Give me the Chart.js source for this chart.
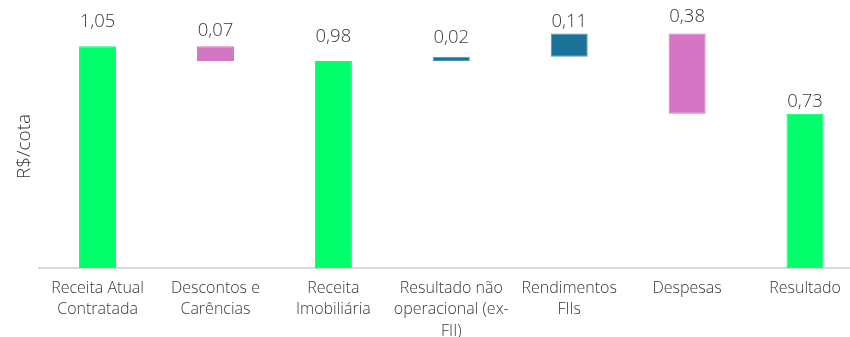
<!DOCTYPE html>
<html>
<head>
<meta charset="utf-8">
<script src="https://cdn.jsdelivr.net/npm/chart.js@4.4.1/dist/chart.umd.min.js"></script>
<style>
  html, body { margin: 0; padding: 0; background: #fff; overflow: hidden; }
  #wrap { width: 864px; height: 337px; }
</style>
</head>
<body>
<div id="wrap"><canvas id="chart"></canvas></div>
<script>
/* ---- data ---- */
const categories = [
  ['Receita Atual', 'Contratada'],
  ['Descontos e', 'Carências'],
  ['Receita', 'Imobiliária'],
  ['Resultado não', 'operacional (ex-', 'FII)'],
  ['Rendimentos', 'FIIs'],
  ['Despesas'],
  ['Resultado']
];
const values = [1.05, -0.07, 0.98, 0.02, 0.11, -0.38, 0.73];
const isTotal = [true, false, true, false, false, false, true];

/* ---- style ---- */
const GREEN = '#00FF6A';
const PINK = '#D675C3';
const BLUE = '#1B7298';
const barColors = [GREEN, PINK, GREEN, BLUE, BLUE, PINK, GREEN];
const labelGap = [19, 10, 19, 14, 6, 11, 7];
const TEXT = '#383838';
const FONT = '"Open Sans", "Noto Sans", sans-serif';

// waterfall: totals start at zero, steps float from the running total
const ranges = [];
let running = 0;
values.forEach((v, i) => {
  if (isTotal[i]) {
    ranges.push([0, v]);
    running = v;
  } else {
    const end = running + v;
    ranges.push([Math.min(running, end), Math.max(running, end)]);
    running = end;
  }
});

const fmt = v => Math.abs(v).toFixed(2).replace('.', ',');

const valueLabels = {
  id: 'valueLabels',
  afterDatasetsDraw(chart) {
    const ctx = chart.ctx;
    const meta = chart.getDatasetMeta(0);
    ctx.save();
    ctx.font = '300 18.5px ' + FONT;
    ctx.fillStyle = TEXT;
    ctx.textAlign = 'center';
    ctx.textBaseline = 'alphabetic';
    meta.data.forEach((bar, i) => {
      const top = Math.min(bar.y, bar.base);
      ctx.fillText(fmt(values[i]), bar.x, top - labelGap[i]);
    });
    ctx.restore();
  }
};

new Chart(document.getElementById('chart'), {
  type: 'bar',
  data: {
    labels: categories,
    datasets: [{
      data: ranges,
      backgroundColor: barColors,
      borderColor: barColors.map(c => c === BLUE ? '#4E93B3' : c),
      borderWidth: 1,
      borderSkipped: false,
      barPercentage: 0.314,
      categoryPercentage: 1.0
    }]
  },
  options: {
    responsive: true,
    maintainAspectRatio: false,
    animation: false,
    layout: { padding: { top: 25, left: 0, right: 0, bottom: 0 } },
    plugins: {
      legend: { display: false },
      tooltip: { enabled: false }
    },
    scales: {
      x: {
        grid: { display: false },
        border: { display: true, color: '#D9D9D9', width: 2 },
        ticks: {
          color: TEXT,
          font: { family: FONT, size: 16, weight: '300', lineHeight: 1.33 },
          padding: 2,
          maxRotation: 0,
          autoSkip: false
        },
        afterFit: s => { s.height = 69; }
      },
      y: {
        min: 0,
        max: 1.15,
        grid: { display: false },
        border: { display: false },
        ticks: { display: false },
        title: {
          display: true,
          text: 'R$/cota',
          color: TEXT,
          font: { family: FONT, size: 19, weight: '300' },
          padding: { top: 13, bottom: 0 }
        },
        afterFit: s => { s.width = 38.6; }
      }
    }
  },
  plugins: [valueLabels]
});
</script>
</body>
</html>
